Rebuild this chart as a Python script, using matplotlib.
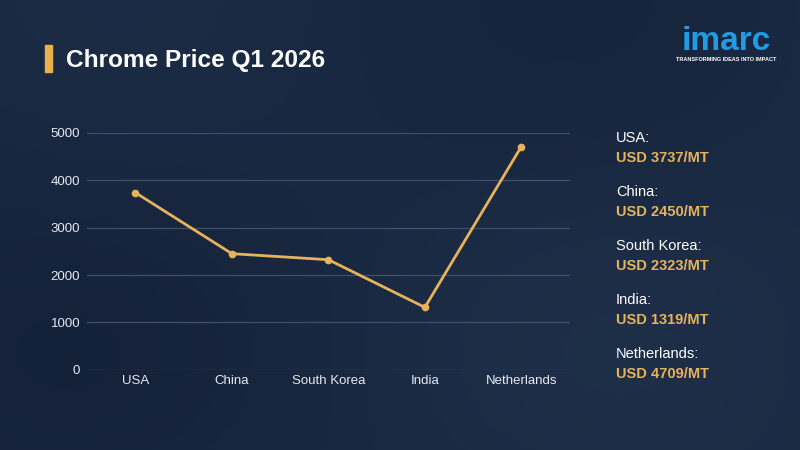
import matplotlib
matplotlib.use("Agg")
import matplotlib.pyplot as plt
import numpy as np

categories = ["USA", "China", "South Korea", "India", "Netherlands"]
prices = [3737, 2450, 2323, 1319, 4709]
yticks = [0, 1000, 2000, 3000, 4000, 5000]
title = "Chrome Price Q1 2026"

BG = "#17263f"
LINE = "#e6b35c"
plt.rcParams['font.family'] = ['Liberation Sans', 'DejaVu Sans']

fig = plt.figure(figsize=(8, 4.5), dpi=100)
fig.patch.set_facecolor(BG)

# subtle background gradient
bg = fig.add_axes([0, 0, 1, 1], zorder=-10)
yy, xx = np.mgrid[0:1:200j, 0:1:350j]
grad = 0.5 + 0.25 * np.sin(xx * 5 + 1) * np.cos(yy * 4) + 0.2 * xx
bg.imshow(grad, cmap=matplotlib.colors.LinearSegmentedColormap.from_list("b", ["#111d33", "#22344f"]),
          aspect="auto", extent=[0, 1, 0, 1], vmin=0, vmax=1.2)
bg.axis("off")

ax = fig.add_axes([0.109, 0.178, 0.603, 0.527])
ax.set_facecolor("none")
x = np.arange(len(categories))
ax.plot(x, prices, color=LINE, lw=2, marker="o", ms=4.5, zorder=3)
ax.set_xlim(-0.5, len(categories) - 0.5)
ax.set_ylim(0, 5000)
ax.set_yticks(yticks)
ax.set_yticklabels([str(v) for v in yticks])
ax.set_xticks(x)
ax.set_xticklabels(categories)
ax.grid(axis="y", color="#3f4f6c", lw=0.9)
ax.set_axisbelow(True)
for s in ax.spines.values():
    s.set_visible(False)
ax.tick_params(length=0, colors="#e6e9ef", labelsize=9.5)
ax.tick_params(axis="x", pad=4)
ax.tick_params(axis="y", pad=5)

# title
fig.patches.append(matplotlib.patches.Rectangle((45 / 800, 1 - 72 / 450), 7 / 800, 27 / 450,
                                                transform=fig.transFigure, color="#e8b04e"))
fig.text(66 / 800, 1 - 61 / 450, title, color="white", fontsize=17.6, fontweight="bold", va="center")

# logo
fig.text(726 / 800, 1 - 42 / 450, "imarc", color="#1f9ce4", fontsize=24, fontweight="bold",
         ha="center", va="center")
fig.text(726 / 800, 1 - 59 / 450, "TRANSFORMING IDEAS INTO IMPACT", color="white", fontsize=4.0,
         fontweight="bold", ha="center", va="center")

# right panel
for i, (c, p) in enumerate(zip(categories, prices)):
    y0 = 138 + i * 54
    fig.text(616 / 800, 1 - y0 / 450, c + ":", color="white", fontsize=10.5, va="center")
    fig.text(616 / 800, 1 - (y0 + 20) / 450, f"USD {p}/MT", color=LINE, fontsize=10.5,
             fontweight="bold", va="center")

fig.savefig("out.png", dpi=100, facecolor=BG)
